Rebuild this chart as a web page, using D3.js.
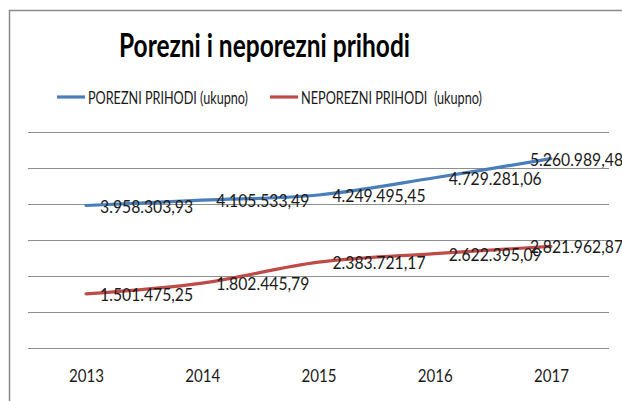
<!DOCTYPE html>
<html>
<head>
<meta charset="utf-8">
<script src="https://cdn.jsdelivr.net/npm/d3@7"></script>
<style>
  body { margin: 0; background: #fff; }
  svg text { font-family: Lato, "Liberation Sans", Arial, sans-serif; fill: #1a1a1a; }
</style>
</head>
<body>
<div id="chart"></div>
<script>
// data
var years = ["2013", "2014", "2015", "2016", "2017"];
var porezni = [3958303.93, 4105533.49, 4249495.45, 4729281.06, 5260989.48];
var neporezni = [1501475.25, 1802445.79, 2383721.17, 2622395.09, 2821962.87];
var seriesNames = ["POREZNI PRIHODI (ukupno)", "NEPOREZNI PRIHODI  (ukupno)"];
var yTicks = [0, 1000000, 2000000, 3000000, 4000000, 5000000, 6000000];

var W = 622, H = 401;
var margin = {top: 132, right: 13, bottom: 53, left: 28};
var width = W - margin.left - margin.right,
    height = H - margin.top - margin.bottom;

var svg = d3.select("#chart")
  .append("svg")
    .attr("width", W)
    .attr("height", H);

// chart border (right and bottom run past the picture)
svg.append("path")
  .attr("d", "M9.5," + (H + 5) + "V10.5H" + (W + 5))
  .attr("fill", "none")
  .attr("stroke", "#8c8c8c")
  .attr("stroke-width", 1.5);

// title
svg.append("text")
  .attr("x", 119)
  .attr("y", 57)
  .attr("textLength", 291)
  .attr("lengthAdjust", "spacingAndGlyphs")
  .style("font-size", "32px")
  .style("font-weight", "bold")
  .style("fill", "#000")
  .text("Porezni i neporezni prihodi");

var g = svg.append("g")
  .attr("transform", "translate(" + margin.left + "," + margin.top + ")");

var x = d3.scalePoint()
  .domain(years)
  .range([0, width])
  .padding(0.5);

var y = d3.scaleLinear()
  .domain([0, 6000000])
  .range([height, 0]);

// gridlines
g.selectAll(".grid")
  .data(yTicks)
  .enter()
  .append("line")
    .attr("x1", 0)
    .attr("x2", width)
    .attr("y1", function(d) { return Math.round(y(d)) + 0.5; })
    .attr("y2", function(d) { return Math.round(y(d)) + 0.5; })
    .attr("stroke", "#8e8e8e")
    .attr("stroke-width", 1);

// x axis labels
var xAxis = g.append("g")
  .attr("transform", "translate(0," + height + ")")
  .call(d3.axisBottom(x).tickSize(0).tickPadding(21));
xAxis.select(".domain").remove();
xAxis.selectAll("text")
  .attr("textLength", 35)
  .attr("lengthAdjust", "spacingAndGlyphs")
  .style("font-size", "18px")
  .style("font-family", "Lato, 'Liberation Sans', Arial, sans-serif")
  .style("fill", "#1a1a1a");

var colors = ["#4a7ebb", "#be4b48"];
var series = [porezni, neporezni];

var line = d3.line()
  .x(function(d, i) { return x(years[i]); })
  .y(function(d) { return y(d); })
  .curve(d3.curveCatmullRom.alpha(0.5));

g.selectAll(".series")
  .data(series)
  .enter()
  .append("path")
    .attr("d", line)
    .attr("fill", "none")
    .attr("stroke", function(d, i) { return colors[i]; })
    .attr("stroke-width", 3.2)
    .attr("stroke-linecap", "round");

// data labels
var fmt = function(v) {
  var s = v.toFixed(2).split(".");
  return s[0].replace(/\B(?=(\d{3})+(?!\d))/g, ".") + "," + s[1];
};
var labelW = 93;
series.forEach(function(vals) {
  g.selectAll(null)
    .data(vals)
    .enter()
    .append("text")
      .attr("x", function(d, i) {
        return Math.min(x(years[i]) + 14, W - margin.left - labelW + 1);
      })
      .attr("y", function(d) { return y(d) + 7; })
      .attr("textLength", labelW)
      .attr("lengthAdjust", "spacingAndGlyphs")
      .style("font-size", "18px")
      .text(function(d) { return fmt(d); });
});

// legend
var legendX = [57, 270], legendTextW = [160, 181];
var legend = svg.selectAll(".legend")
  .data(seriesNames)
  .enter()
  .append("g")
    .attr("transform", function(d, i) { return "translate(" + legendX[i] + ",97)"; });
legend.append("line")
  .attr("x1", 0).attr("x2", 28)
  .attr("y1", 0).attr("y2", 0)
  .attr("stroke", function(d, i) { return colors[i]; })
  .attr("stroke-width", 3.2);
legend.append("text")
  .attr("x", 31)
  .attr("y", 6.5)
  .attr("textLength", function(d, i) { return legendTextW[i]; })
  .attr("lengthAdjust", "spacingAndGlyphs")
  .style("font-size", "18px")
  .style("white-space", "pre")
  .text(function(d) { return d; });
</script>
</body>
</html>
